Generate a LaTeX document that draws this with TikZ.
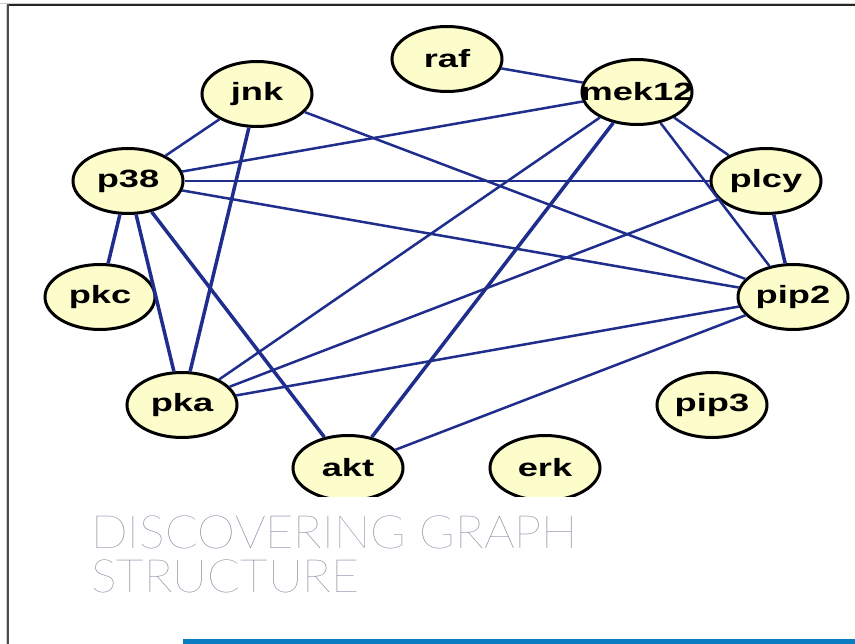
\documentclass[tikz,border=0pt]{standalone}
\usepackage{fontspec}
\setmainfont{Liberation Sans}
\newfontfamily\titlefont{Lato Thin}
\usetikzlibrary{shapes.geometric}
\definecolor{edgeblue}{HTML}{1F2E8C}
\definecolor{nodefill}{HTML}{FDFDCB}
\definecolor{titlegray}{HTML}{6E7890}
\definecolor{barblue}{HTML}{0A7DC2}
% wide bold gene labels; a zero-width box keeps every ellipse the same size
\newcommand{\genelabel}[1]{\makebox[0pt]{\scalebox{1.45}[1]{#1}}}
\tikzset{
  gene/.style={ellipse, draw=black, line width=3pt, fill=nodefill,
    minimum width=110pt, minimum height=65pt, inner sep=0pt,
    font=\fontsize{25}{25}\selectfont\bfseries},
  link/.style={draw=edgeblue, line width=2.5pt},
  strong/.style={draw=edgeblue, line width=3.5pt},
}
\begin{document}
\begin{tikzpicture}[x=1pt, y=-1pt]
  \useasboundingbox (0,0) rectangle (855,644);
  \fill[white] (0,0) rectangle (855,644);

  % frame
  \draw[gray!40, line width=1pt] (0,3.5) -- (855,3.5);
  \draw[gray!40, line width=1pt] (6.5,5) -- (6.5,644);
  \draw[black!85, line width=2pt] (8,5) -- (855,5);
  \draw[black!70, line width=2pt] (8,4) -- (8,644);

  % the network, cut off just above the title
  \begin{scope}
    \clip (0,0) rectangle (855,497);
    \node[gene] (raf)   at (447,59)  {\genelabel{raf}};
    \node[gene] (jnk)   at (257,94)  {\genelabel{jnk}};
    \node[gene] (mek12) at (637,92)  {\genelabel{mek12}};
    \node[gene] (p38)   at (128,181) {\genelabel{p38}};
    \node[gene] (plcy)  at (766,181) {\genelabel{plcy}};
    \node[gene] (pkc)   at (100,297) {\genelabel{pkc}};
    \node[gene] (pip2)  at (793,297) {\genelabel{pip2}};
    \node[gene] (pka)   at (182,405) {\genelabel{pka}};
    \node[gene] (pip3)  at (712,405) {\genelabel{pip3}};
    \node[gene] (akt)   at (348,468) {\genelabel{akt}};
    \node[gene] (erk)   at (545,468) {\genelabel{erk}};

    % edges
    \draw[link]   (raf)   -- (mek12);
    \draw[link]   (jnk)   -- (p38);
    \draw[strong] (jnk)   -- (pka);
    \draw[link]   (jnk)   -- (pip2);
    \draw[link]   (mek12) -- (p38);
    \draw[link]   (mek12) -- (plcy);
    \draw[link]   (mek12) -- (pip2);
    \draw[link]   (mek12) -- (pka);
    \draw[strong] (mek12) -- (akt);
    \draw[link]   (p38)   -- (plcy);
    \draw[link]   (p38)   -- (pip2);
    \draw[strong] (p38)   -- (pkc);
    \draw[strong] (p38)   -- (pka);
    \draw[strong] (p38)   -- (akt);
    \draw[strong] (plcy)  -- (pip2);
    \draw[link]   (plcy)  -- (pka);
    \draw[link]   (pip2)  -- (pka);
    \draw[link]   (pip2)  -- (akt);
  \end{scope}

  % title
  \node[anchor=north west, inner sep=0pt, text=titlegray, align=left,
        font=\titlefont\fontsize{46}{44}\selectfont] (title) at (91,516)
        {\scalebox{1.05}[1]{DISCOVERING GRAPH}\\\scalebox{1.05}[1]{STRUCTURE}};

  % bottom bar
  \fill[barblue] (183,639) rectangle (855,644);
\end{tikzpicture}
\end{document}
